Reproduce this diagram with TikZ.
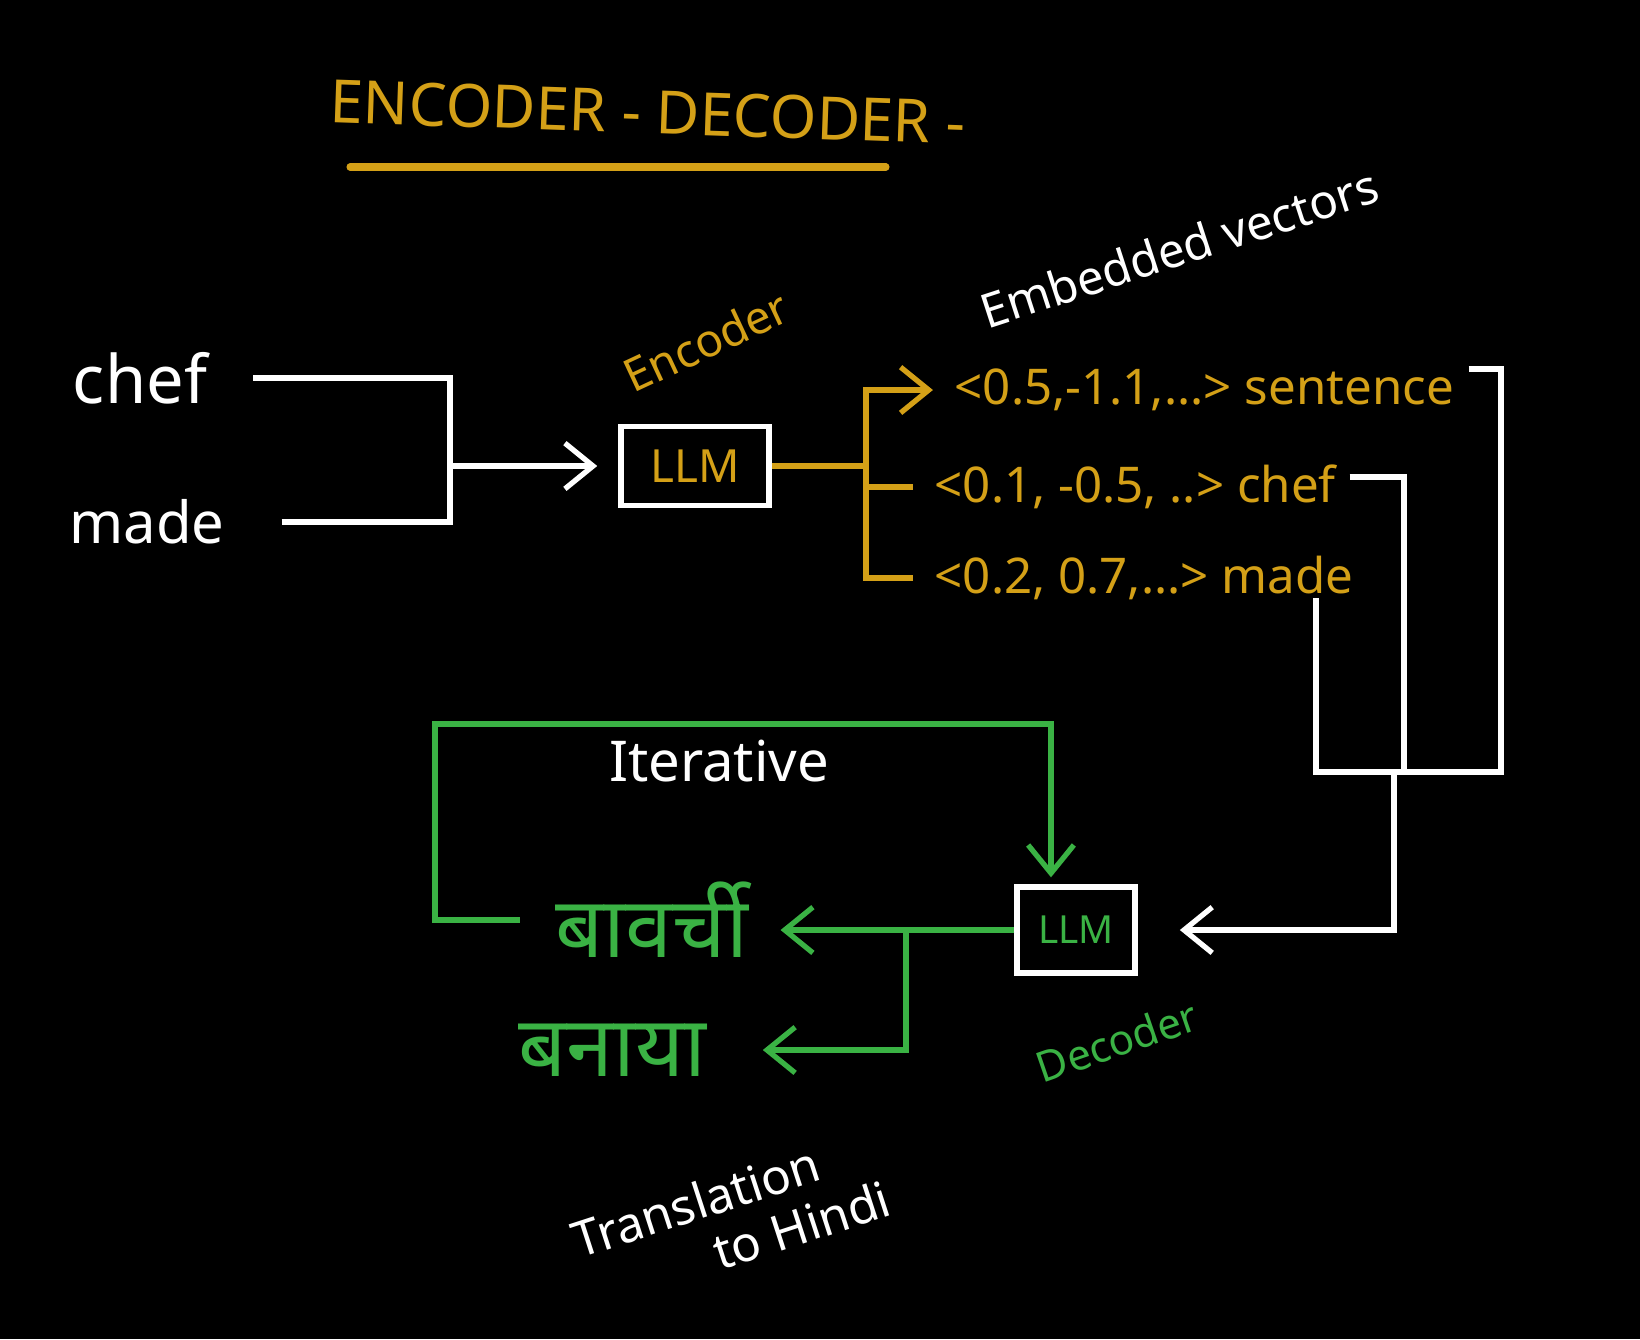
\documentclass[tikz,border=0pt]{standalone}
\usepackage{fontspec}
\setmainfont{Noto Sans}
\newfontfamily\hindifont[Script=Devanagari]{Noto Sans}
\usetikzlibrary{arrows.meta}
\definecolor{gold}{RGB}{212,160,23}
\definecolor{leaf}{RGB}{58,178,68}
\tikzset{
  wire/.style={draw=white,line width=1.5pt},
  gwire/.style={draw=gold,line width=1.5pt},
  lwire/.style={draw=leaf,line width=1.5pt},
  llmbox/.style={draw=white,line width=1.5pt,inner sep=0pt},
  hand/.style={text=white,inner sep=0pt},
  vec/.style={anchor=west,text=gold,inner sep=0pt,font=\fontsize{14}{16}\selectfont},
}
\begin{document}
\begin{tikzpicture}[x=0.01cm,y=-0.01cm,>={Straight Barb[length=8pt,width=13pt]}]
\fill[black] (0,0) rectangle (1640,1339);
\useasboundingbox (0,0) rectangle (1640,1339);

\node[text=gold,rotate=-2,font=\fontsize{17}{20}\selectfont] (title) at (648,112) {ENCODER - DECODER -};
\draw[gold,line width=2pt,line cap=round] (350,167) -- (886,167);

\node[hand,font=\fontsize{19}{22}\selectfont] (chef) at (140,378) {chef};
\node[hand,font=\fontsize{16.5}{20}\selectfont] (made) at (147,522) {made};
\node[llmbox,minimum width=1.48cm,minimum height=0.79cm,text=gold,font=\fontsize{13}{15}\selectfont] (enc) at (695,466) {LLM};
\node[text=gold,rotate=25,font=\fontsize{13}{15}\selectfont] (enclab) at (706,341) {Encoder};
\node[hand,rotate=18,font=\fontsize{13.5}{16}\selectfont] (emb) at (1179,248) {Embedded vectors};

\node[vec] (v1) at (954,390) {<0.5,-1.1,...> sentence};
\node[vec] (v2) at (934,487) {<0.1, -0.5, ..> chef};
\node[vec] (v3) at (934,578) {<0.2, 0.7,...> made};

\node[llmbox,minimum width=1.18cm,minimum height=0.86cm,text=leaf,font=\fontsize{11}{13}\selectfont] (dec) at (1076,930) {LLM};
\node[text=leaf,rotate=19,font=\fontsize{12}{14}\selectfont] (declab) at (1117,1041) {Decoder};
\node[text=leaf,inner sep=0pt,font=\hindifont\fontsize{24}{28}\selectfont] (hin1) at (652,920) {बावर्ची};
\node[text=leaf,inner sep=0pt,font=\hindifont\fontsize{24}{28}\selectfont] (hin2) at (612,1050) {बनाया};
\node[hand,font=\fontsize{16}{18}\selectfont] (iter) at (719,761) {Iterative};
\node[hand,rotate=18,align=left,font=\fontsize{14}{15.6}\selectfont] (trans) at (731,1219) {Translation\\\hspace*{37pt}to Hindi};

\coordinate (jin) at (450,466);
\draw[wire,shorten <=13pt] (chef.east) -| (jin);
\draw[wire,shorten <=16pt] (made.east) -| (jin);
\draw[wire,->,shorten >=6pt] (jin) -- (enc.west);

\coordinate (ej) at (866,466);
\draw[gwire] (enc.east) -- (ej);
\draw[gwire,->,shorten >=6pt] (ej) |- (v1.west);
\draw[gwire,shorten >=6pt] (ej) |- (v2.west);
\draw[gwire,shorten >=6pt] (ej) |- (v3.west);

\coordinate (bar) at (1394,772);
\draw[wire] ([shift={(14,-21)}]v1.east) -| (1501,772) -- (1316,772);
\draw[wire] ([shift={(13,-10)}]v2.east) -| (1404,772);
\draw[wire] (v3.east) ++(-38,20) |- (bar);
\draw[wire,->,shorten >=12pt] (bar) |- (dec.east);

\coordinate (dj) at (906,930);
\draw[lwire,->,shorten >=9pt] (dec.west) -- (dec.west -| hin1.east);
\draw[lwire,->,shorten >=16pt] (dj) |- (hin2.east);
\draw[lwire,->,shorten <=10pt,shorten >=2pt] (hin1.west) -| (435,724) -| ([xshift=-0.25cm]dec.north);
\end{tikzpicture}
\end{document}
